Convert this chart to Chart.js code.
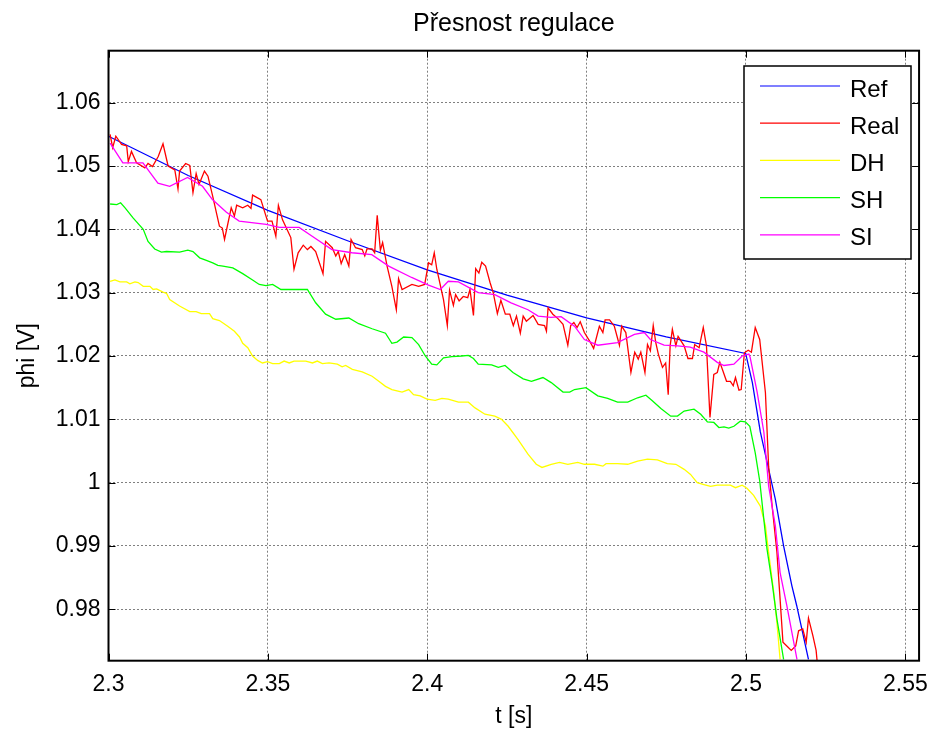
<!DOCTYPE html>
<html>
<head>
<meta charset="utf-8">
<title>Přesnost regulace</title>
<script src="https://cdn.jsdelivr.net/npm/chart.js@4.4.0/dist/chart.umd.min.js"></script>
<style>
  html, body { margin: 0; padding: 0; background: #fff; }
  #wrap { width: 938px; height: 734px; }
</style>
</head>
<body>
<div id="wrap"><canvas id="chart" width="938" height="734"></canvas></div>
<script>
const chartTitle = "Přesnost regulace";
const xTitle = "t [s]";
const yTitle = "phi [V]";

const xTicks = [2.3, 2.35, 2.4, 2.45, 2.5, 2.55];
const xTickLabels = ["2.3", "2.35", "2.4", "2.45", "2.5", "2.55"];
const yTicks = [0.98, 0.99, 1.0, 1.01, 1.02, 1.03, 1.04, 1.05, 1.06];
const yTickLabels = ["0.98", "0.99", "1", "1.01", "1.02", "1.03", "1.04", "1.05", "1.06"];

const seriesNames = ["Ref", "Real", "DH", "SH", "SI"];
const seriesColors = ["#0000ff", "#ff0000", "#ffff00", "#00ff00", "#ff00ff"];

// Ref
const refT = [2.3, 2.325, 2.35, 2.375, 2.4, 2.425, 2.45, 2.475, 2.4999, 2.502, 2.5045, 2.5092, 2.5118, 2.5144, 2.5159, 2.5196];
const refV = [1.0547, 1.0485, 1.043, 1.0382, 1.0336, 1.0296, 1.026, 1.023, 1.0204, 1.0158, 1.008, 0.9974, 0.99, 0.9837, 0.9806, 0.9721];

// Real
const realT = [2.3005, 2.3013, 2.3023, 2.3041, 2.3057, 2.3062, 2.3072, 2.3088, 2.3114, 2.3124, 2.3138, 2.3156, 2.3171, 2.3187,
  2.3208, 2.3218, 2.3223, 2.3242, 2.3255, 2.3265, 2.3275, 2.3284, 2.3301, 2.3312, 2.3327, 2.3348, 2.3357, 2.3364, 2.3385,
  2.3395, 2.3402, 2.3421, 2.3437, 2.3447, 2.3452, 2.3478, 2.3499, 2.3513, 2.3525, 2.3533, 2.3546, 2.3572, 2.3582, 2.3595,
  2.3611, 2.3624, 2.3635, 2.365, 2.3673, 2.3681, 2.3702, 2.3713, 2.3721, 2.373, 2.3741, 2.3754, 2.3761, 2.3775, 2.3796,
  2.3804, 2.3811, 2.3827, 2.3835, 2.3843, 2.3853, 2.386, 2.3874, 2.3889, 2.3903, 2.391, 2.3921, 2.3952, 2.3973, 2.3992,
  2.4004, 2.4014, 2.4022, 2.403, 2.4051, 2.4063, 2.407, 2.4082, 2.4089, 2.41, 2.4113, 2.4127, 2.4134, 2.4145, 2.4152,
  2.4162, 2.4171, 2.4183, 2.4197, 2.4207, 2.422, 2.4231, 2.4245, 2.4259, 2.427, 2.428, 2.4292, 2.4301, 2.4311, 2.4332,
  2.4348, 2.4368, 2.4374, 2.4379, 2.4394, 2.441, 2.4426, 2.4441, 2.445, 2.446, 2.447, 2.448, 2.4493, 2.4509, 2.4522,
  2.454, 2.4551, 2.4558, 2.4572, 2.4587, 2.4603, 2.461, 2.4623, 2.4639, 2.4651, 2.4662, 2.467, 2.4683, 2.4691, 2.47,
  2.4709, 2.4717, 2.4725, 2.4738, 2.4748, 2.4756, 2.4762, 2.4769, 2.478, 2.4787, 2.4806, 2.4818, 2.4832, 2.4839, 2.4853,
  2.4866, 2.4876, 2.4887, 2.4899, 2.491, 2.4918, 2.4928, 2.4939, 2.4951, 2.496, 2.4967, 2.4978, 2.4985, 2.4995, 2.5007,
  2.5017, 2.5029, 2.5043, 2.5061, 2.5071, 2.5082, 2.5097, 2.5107, 2.5116, 2.5128, 2.5142, 2.5156, 2.5165, 2.5178, 2.5189,
  2.5196, 2.521, 2.522, 2.5223];
const realV = [1.055, 1.0529, 1.0547, 1.0534, 1.0532, 1.0507, 1.0523, 1.0505, 1.0497, 1.0504, 1.0499, 1.0515, 1.0535, 1.05,
  1.0494, 1.0464, 1.0492, 1.0504, 1.0501, 1.0458, 1.0488, 1.0471, 1.0492, 1.0484, 1.0452, 1.0405, 1.0402, 1.0384, 1.0434,
  1.0421, 1.0438, 1.0434, 1.0438, 1.0433, 1.0454, 1.0447, 1.0413, 1.0413, 1.0389, 1.0438, 1.0415, 1.0387, 1.0337, 1.0363,
  1.0375, 1.0368, 1.0373, 1.0365, 1.033, 1.0381, 1.0371, 1.0358, 1.0365, 1.0346, 1.036, 1.0342, 1.0384, 1.0371, 1.0368,
  1.0358, 1.0369, 1.0369, 1.0363, 1.0422, 1.0367, 1.0379, 1.0342, 1.031, 1.0273, 1.0322, 1.0305, 1.0313, 1.031, 1.0313,
  1.0347, 1.0344, 1.0363, 1.0337, 1.0289, 1.0248, 1.0304, 1.028, 1.0297, 1.0287, 1.0294, 1.0292, 1.0305, 1.0264, 1.0338,
  1.0331, 1.0348, 1.0342, 1.0316, 1.03, 1.0267, 1.0288, 1.0266, 1.0266, 1.0248, 1.0263, 1.0236, 1.0263, 1.0255, 1.0264,
  1.025, 1.0248, 1.0239, 1.0276, 1.0266, 1.0259, 1.025, 1.0217, 1.0248, 1.0253, 1.0245, 1.0254, 1.0237, 1.0224, 1.0212,
  1.0247, 1.0237, 1.0257, 1.0257, 1.0247, 1.0217, 1.0247, 1.0237, 1.0174, 1.0206, 1.0195, 1.0206, 1.0174, 1.0218, 1.0208,
  1.0248, 1.0221, 1.0203, 1.0182, 1.0189, 1.0139, 1.0216, 1.0242, 1.0216, 1.0231, 1.0216, 1.0196, 1.0196, 1.0218, 1.0213,
  1.0245, 1.0216, 1.0103, 1.0171, 1.0174, 1.019, 1.0176, 1.016, 1.016, 1.0153, 1.0166, 1.0146, 1.0147, 1.0205, 1.0209,
  1.0206, 1.0245, 1.0226, 1.0142, 1.0026, 0.9963, 0.989, 0.9816, 0.9748, 0.9742, 0.9735, 0.9742, 0.9766, 0.9769, 0.9748,
  0.9786, 0.9758, 0.9735, 0.9719];

// DH
const dhT = [2.3005, 2.302, 2.3036, 2.3057, 2.3067, 2.3083, 2.3093, 2.3109, 2.313, 2.314, 2.3151, 2.3171, 2.3182, 2.3192,
  2.3223, 2.3255, 2.3275, 2.3291, 2.3317, 2.3327, 2.3348, 2.3374, 2.3395, 2.3411, 2.3421, 2.3437, 2.3452, 2.3468, 2.3483,
  2.3499, 2.3515, 2.3536, 2.3551, 2.3567, 2.3582, 2.3619, 2.364, 2.3655, 2.3671, 2.3692, 2.3718, 2.3733, 2.3744, 2.3765,
  2.3796, 2.3827, 2.3848, 2.3869, 2.3889, 2.3921, 2.3942, 2.3957, 2.3978, 2.3999, 2.4025, 2.4046, 2.4066, 2.4098, 2.4129,
  2.415, 2.4181, 2.4212, 2.4233, 2.4254, 2.4285, 2.4316, 2.4342, 2.436, 2.4389, 2.4415, 2.4441, 2.4472, 2.4493, 2.4525,
  2.4551, 2.4561, 2.4597, 2.4629, 2.466, 2.4691, 2.4722, 2.4753, 2.478, 2.4806, 2.4826, 2.4847, 2.4868, 2.4889, 2.491,
  2.4951, 2.4967, 2.4988, 2.5003, 2.5024, 2.5045, 2.5061, 2.5071, 2.5087, 2.5097, 2.5107];
const dhV = [1.0318, 1.032, 1.0317, 1.0317, 1.0314, 1.0317, 1.0316, 1.031, 1.031, 1.0305, 1.0306, 1.0301, 1.0299, 1.0289,
  1.0279, 1.027, 1.027, 1.0267, 1.0267, 1.0259, 1.0256, 1.0247, 1.0239, 1.023, 1.022, 1.0213, 1.02, 1.0193, 1.0189,
  1.0191, 1.0188, 1.0188, 1.0192, 1.0189, 1.0192, 1.0192, 1.0189, 1.0192, 1.0188, 1.0189, 1.0187, 1.0183, 1.0185, 1.0179,
  1.0175, 1.0168, 1.016, 1.0152, 1.0147, 1.0143, 1.0147, 1.0139, 1.0137, 1.0132, 1.013, 1.0133, 1.0132, 1.0127, 1.0127,
  1.0118, 1.0108, 1.0105, 1.01, 1.0089, 1.0068, 1.0045, 1.0029, 1.0024, 1.0029, 1.0032, 1.0029, 1.0032, 1.0029, 1.0029,
  1.0026, 1.003, 1.003, 1.0029, 1.0034, 1.0037, 1.0036, 1.003, 1.0029, 1.0021, 1.0013, 1.0, 0.9997, 0.9994, 0.9996,
  0.9996, 0.9992, 0.9996, 0.9991, 0.998, 0.9963, 0.9932, 0.989, 0.9827, 0.9779, 0.9721];

// SH
const shT = [2.3005, 2.3026, 2.3038, 2.3052, 2.3077, 2.3109, 2.3124, 2.3145, 2.3166, 2.3182, 2.3223, 2.3249, 2.3265, 2.3286,
  2.3307, 2.3327, 2.3343, 2.3359, 2.339, 2.3421, 2.3452, 2.3473, 2.3494, 2.3515, 2.3541, 2.3624, 2.365, 2.3681, 2.3713,
  2.3754, 2.3785, 2.3827, 2.3869, 2.3889, 2.3905, 2.3926, 2.3952, 2.3973, 2.3994, 2.4014, 2.403, 2.4051, 2.4077, 2.4108,
  2.4129, 2.4145, 2.416, 2.4202, 2.4223, 2.4244, 2.4269, 2.4301, 2.4327, 2.4363, 2.4389, 2.4426, 2.4447, 2.4462, 2.4498,
  2.4535, 2.4566, 2.4597, 2.4629, 2.466, 2.4686, 2.4707, 2.4733, 2.4764, 2.4785, 2.4806, 2.4837, 2.4858, 2.4879, 2.4899,
  2.4915, 2.4931, 2.4946, 2.4962, 2.4982, 2.4998, 2.5012, 2.5029, 2.5043, 2.5056, 2.5066, 2.5082, 2.5097, 2.5118];
const shV = [1.044, 1.0439, 1.0442, 1.0434, 1.0418, 1.04, 1.0381, 1.0369, 1.0364, 1.0365, 1.0364, 1.0367, 1.0365, 1.0355,
  1.0351, 1.0347, 1.0343, 1.0342, 1.0339, 1.033, 1.032, 1.0313, 1.0311, 1.0313, 1.0305, 1.0305, 1.0284, 1.0266, 1.0258,
  1.026, 1.0251, 1.0243, 1.0236, 1.022, 1.0222, 1.023, 1.0229, 1.0218, 1.02, 1.0187, 1.0186, 1.0197, 1.0199, 1.02,
  1.0201, 1.0196, 1.0187, 1.0186, 1.0182, 1.0185, 1.0174, 1.0164, 1.016, 1.0166, 1.0158, 1.0143, 1.0143, 1.0147, 1.015,
  1.0137, 1.0133, 1.0127, 1.0127, 1.0134, 1.0138, 1.0129, 1.0117, 1.0105, 1.0105, 1.0113, 1.0116, 1.0108, 1.0096, 1.0095,
  1.0087, 1.0088, 1.0086, 1.0089, 1.0097, 1.0096, 1.0089, 1.0047, 1.0003, 0.9942, 0.9895, 0.9842, 0.9785, 0.9721];

// SI
const siT = [2.3005, 2.3045, 2.3108, 2.3155, 2.3192, 2.3248, 2.3295, 2.3326, 2.337, 2.341, 2.3495, 2.3536, 2.3598, 2.3639,
  2.3701, 2.3764, 2.3826, 2.3879, 2.3951, 2.4004, 2.4041, 2.4066, 2.4098, 2.416, 2.4212, 2.4263, 2.4316, 2.4348, 2.4388,
  2.442, 2.4462, 2.4493, 2.4535, 2.4597, 2.465, 2.4681, 2.47, 2.4743, 2.4785, 2.4825, 2.4868, 2.491, 2.4931, 2.4962,
  2.4988, 2.5009, 2.5013, 2.5035, 2.5056, 2.5071, 2.5092, 2.5107, 2.5128, 2.516];
const siV = [1.0536, 1.0505, 1.0505, 1.0473, 1.0468, 1.0482, 1.0468, 1.0447, 1.0427, 1.0413, 1.0408, 1.0403, 1.0403, 1.0389,
  1.0368, 1.0363, 1.036, 1.0342, 1.0324, 1.0312, 1.0305, 1.0318, 1.0317, 1.03, 1.0297, 1.0284, 1.0273, 1.0263, 1.0261,
  1.0262, 1.0247, 1.0226, 1.0217, 1.0221, 1.0234, 1.0237, 1.0226, 1.0217, 1.0216, 1.0214, 1.0206, 1.019, 1.0185, 1.0187,
  1.02, 1.0203, 1.0198, 1.0143, 1.008, 0.9995, 0.9932, 0.9858, 0.9806, 0.9721];

const seriesT = [refT, realT, dhT, shT, siT];
const seriesV = [refV, realV, dhV, shV, siV];

const FONT = "'Liberation Sans', Arial, Helvetica, sans-serif";

function toPoints(ts, vs) {
  return ts.map((t, i) => ({x: t, y: vs[i]}));
}

// box, inward ticks, title and legend drawn the matlab way
const matlabLook = {
  id: "matlabLook",
  afterDatasetsDraw(chart) {
    const {ctx, chartArea: a, scales} = chart;
    ctx.save();
    ctx.strokeStyle = "#000";
    ctx.lineWidth = 1;
    ctx.beginPath();
    xTicks.forEach(v => {
      const px = Math.round(scales.x.getPixelForValue(v)) + 0.5;
      ctx.moveTo(px, a.bottom); ctx.lineTo(px, a.bottom - 7);
      ctx.moveTo(px, a.top); ctx.lineTo(px, a.top + 7);
    });
    yTicks.forEach(v => {
      const py = Math.round(scales.y.getPixelForValue(v)) + 0.5;
      ctx.moveTo(a.left, py); ctx.lineTo(a.left + 7, py);
      ctx.moveTo(a.right, py); ctx.lineTo(a.right - 7, py);
    });
    ctx.stroke();
    ctx.lineWidth = 2;
    ctx.strokeRect(a.left, a.top, a.right - a.left, a.bottom - a.top);
    ctx.restore();
  },
  afterDraw(chart) {
    const {ctx, chartArea: a} = chart;
    ctx.save();
    ctx.fillStyle = "#000";
    ctx.font = "25px " + FONT;
    ctx.textAlign = "center";
    ctx.textBaseline = "middle";
    ctx.fillText(chartTitle, (a.left + a.right) / 2, 24);

    // legend
    const lx = 744, ly = 66, lw = 167, lh = 193;
    ctx.fillStyle = "#fff";
    ctx.fillRect(lx, ly, lw, lh);
    ctx.strokeStyle = "#000";
    ctx.lineWidth = 1.5;
    ctx.strokeRect(lx, ly, lw, lh);
    ctx.font = "24px " + FONT;
    ctx.textAlign = "left";
    chart.data.datasets.forEach((ds, i) => {
      const y = ly + 20 + i * 37.2;
      ctx.strokeStyle = ds.borderColor;
      ctx.lineWidth = 1.2;
      ctx.beginPath();
      ctx.moveTo(lx + 16, y); ctx.lineTo(lx + 96, y);
      ctx.stroke();
      ctx.fillStyle = "#000";
      ctx.fillText(ds.label, lx + 106, y + 4);
    });
    ctx.restore();
  }
};

const datasets = seriesNames.map((name, i) => ({
  label: name,
  data: toPoints(seriesT[i], seriesV[i]),
  borderColor: seriesColors[i],
  backgroundColor: seriesColors[i],
  borderWidth: 1.3,
  pointRadius: 0,
  tension: 0,
  fill: false,
  order: seriesNames.length - i
}));

new Chart(document.getElementById("chart").getContext("2d"), {
  type: "line",
  data: { datasets: datasets },
  options: {
    responsive: false,
    animation: false,
    layout: { padding: { left: 0, right: 15.3, top: 50.7, bottom: 0 } },
    plugins: {
      legend: { display: false },
      title: { display: false },
      tooltip: { enabled: false }
    },
    scales: {
      x: {
        type: "linear",
        min: 2.3,
        max: 2.5543,
        afterFit: s => { s.height = 73.3; },
        afterBuildTicks: s => { s.ticks = xTicks.map(v => ({value: v})); },
        ticks: {
          color: "#000",
          padding: 10,
          maxRotation: 0,
          font: { family: FONT, size: 23 },
          callback: (v, i) => xTickLabels[i]
        },
        grid: { color: "#808080", lineWidth: 1, borderDash: [2, 2], drawTicks: false },
        border: { display: false, dash: [2, 2] },
        title: { display: true, text: xTitle, color: "#000", font: { family: FONT, size: 23 }, padding: { top: 0, bottom: 4 } }
      },
      y: {
        type: "linear",
        min: 0.97188,
        max: 1.06821,
        afterFit: s => { s.width = 108.5; },
        afterBuildTicks: s => { s.ticks = yTicks.map(v => ({value: v})); },
        ticks: {
          color: "#000",
          padding: 8,
          font: { family: FONT, size: 23 },
          callback: (v, i) => yTickLabels[i]
        },
        grid: { color: "#808080", lineWidth: 1, borderDash: [2, 2], drawTicks: false },
        border: { display: false, dash: [2, 2] },
        title: { display: true, text: yTitle, color: "#000", font: { family: FONT, size: 23 }, padding: { top: 14, bottom: 0 } }
      }
    }
  },
  plugins: [matlabLook]
});
</script>
</body>
</html>
